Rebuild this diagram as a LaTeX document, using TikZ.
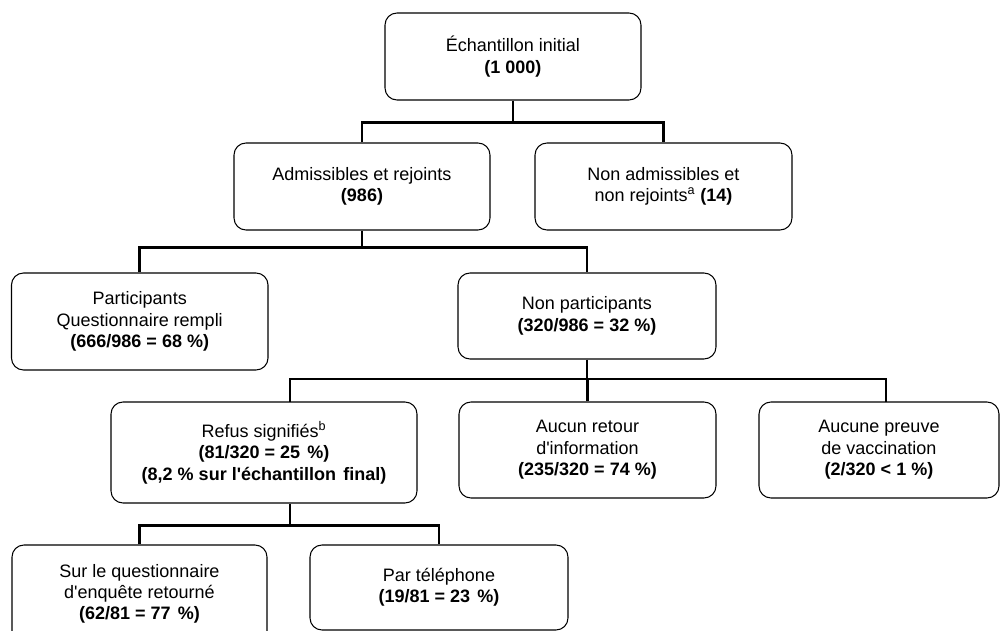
\documentclass[tikz,border=0pt]{standalone}
\usepackage{fontspec}
\newfontfamily\arialf{Liberation Sans}
\begin{document}
\begin{tikzpicture}[x=0.75pt,y=-0.75pt,
  box/.style={draw, line width=0.8pt, rounded corners=9pt, align=center, inner sep=0pt,
    font=\arialf\fontsize{13.5}{16}\selectfont},
  conn/.style={line width=2pt}]
\useasboundingbox (0,0) rectangle (1001,631);
\clip (0,0) rectangle (1001,631);
\fill[white] (0,0) rectangle (1001,631);

\node[box, minimum width=192pt, minimum height=65.25pt] (top) at (513,56.5)
  {Échantillon initial\\\textbf{(1 000)}};
\node[box, minimum width=192pt, minimum height=65.25pt] (adm) at (362,186.5)
  {Admissibles et rejoints\\\textbf{(986)}};
\node[box, minimum width=192.75pt, minimum height=65.25pt] (nonadm) at (663.5,186.5)
  {Non admissibles et\\non rejoints\textsuperscript{a} \textbf{(14)}};
\node[box, minimum width=192.4pt, minimum height=72.75pt] (part) at (139.75,321.5)
  {Participants\\Questionnaire rempli\\\textbf{(666/986 = 68 \%)}};
\node[box, minimum width=193.5pt, minimum height=64.5pt] (np) at (587,316)
  {Non participants\\\textbf{(320/986 = 32 \%)}};
\node[box, minimum width=229.5pt, minimum height=75.75pt] (refus) at (264,452.5)
  {Refus signifiés\textsuperscript{b}\\\textbf{(81/320 = 25\hspace{0.4em}\%)}\\\textbf{(8,2 \% sur l'échantillon\hspace{0.4em}final)}};
\node[box, minimum width=192.75pt, minimum height=72pt] (retour) at (587.5,450)
  {Aucun retour\\d'information\\\textbf{(235/320 = 74 \%)}};
\node[box, minimum width=180pt, minimum height=72pt] (preuve) at (879,450)
  {Aucune preuve\\de vaccination\\\textbf{(2/320 < 1 \%)}};
\node[box, minimum width=191.25pt, minimum height=73.5pt] (sur) at (139.5,594)
  {Sur le questionnaire\\d'enquête retourné\\\textbf{(62/81 = 77\hspace{0.4em}\%)}};
\node[box, minimum width=193.5pt, minimum height=63.75pt] (par) at (439,587.5)
  {Par téléphone\\\textbf{(19/81 = 23\hspace{0.4em}\%)}};

\coordinate (rt) at (290,402);
\coordinate (pt) at (886,402);

\draw[conn] (top.south) -- ++(0,23);
\draw[conn] (adm.north) -- ++(0,-20) -| (nonadm.north);
\draw[conn] (adm.south) -- ++(0,18);
\draw[conn] (part.north) -- ++(0,-25) -| (np.north);
\draw[conn] (np.south) -- ++(0,20);
\draw[conn] (rt) -- ++(0,-23) -| (pt);
\draw[conn] (retour.north) -- ++(0,-23);
\draw[conn] (refus.south -| rt) -- ++(0,23);
\draw[conn] (sur.north) -- ++(0,-19) -| (par.north);
\end{tikzpicture}
\end{document}
